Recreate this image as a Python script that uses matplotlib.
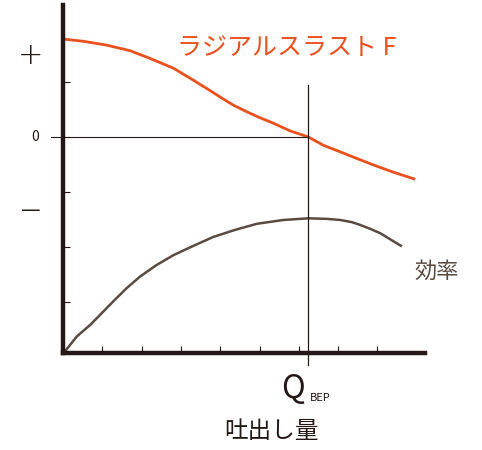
import matplotlib.pyplot as plt

plt.rcParams["font.family"] = ["Noto Sans CJK JP", "DejaVu Sans"]

# flow in tick units, value in tick units (0 = zero line)
thrust_x = [0.01, 0.52, 1.11, 1.70, 2.21, 2.81, 3.23, 3.66, 3.99, 4.33, 4.67,
            5.01, 5.35, 5.78, 6.24, 6.62, 7.05, 7.47, 7.90, 8.40, 8.96]
thrust_y = [1.78, 1.74, 1.67, 1.57, 1.43, 1.25, 1.07, 0.88, 0.73, 0.58, 0.46,
            0.35, 0.25, 0.11, 0.0, -0.15, -0.27, -0.39, -0.51, -0.64, -0.77]
eff_x = [0.05, 0.35, 0.69, 0.98, 1.28, 1.62, 1.96, 2.38, 2.81, 3.32, 3.82, 4.38,
         4.93, 5.61, 6.24, 6.71, 7.05, 7.35, 7.56, 7.81, 8.07, 8.32, 8.62]
eff_y = [-3.90, -3.63, -3.42, -3.21, -2.99, -2.75, -2.54, -2.33, -2.15, -1.98, -1.82, -1.69,
         -1.58, -1.51, -1.48, -1.49, -1.51, -1.55, -1.60, -1.67, -1.75, -1.86, -1.99]
q_bep = 6.24
x_ticks = [1, 2, 3, 4, 5, 6, 7, 8]
y_ticks = [1, 0, -1, -2, -3]

ORANGE = "#E8501E"
BROWN = "#594A42"
DARK = "#231815"

W, H = 482, 450
fig = plt.figure(figsize=(W / 100, H / 100), dpi=100)
ax = fig.add_axes([63 / W, 97 / H, 362 / W, 348 / H])
ax.set_xlim(0, 9.21)
ax.set_ylim(-3.93, 2.40)

ax.plot(thrust_x, thrust_y, color=ORANGE, lw=2.0, solid_capstyle="butt")
ax.plot(eff_x, eff_y, color=BROWN, lw=1.8, solid_capstyle="butt")

ax.plot([-0.3, q_bep], [0, 0], color=DARK, lw=0.8, clip_on=False)
ax.plot([q_bep, q_bep], [0.95, -4.15], color=DARK, lw=0.9, clip_on=False)

for s in ["top", "right"]:
    ax.spines[s].set_visible(False)
for s in ["left", "bottom"]:
    ax.spines[s].set_linewidth(3.2)
    ax.spines[s].set_color(DARK)

ax.set_xticks(x_ticks)
ax.set_yticks(y_ticks)
ax.tick_params(direction="in", length=5, width=0.8, color=DARK,
               labelleft=False, labelbottom=False)

ax.text(-0.83, 1.49, "+", fontsize=22, ha="center", va="center", color=DARK,
        family="DejaVu Sans", fontweight="light")
ax.text(-0.7, 0, "0", fontsize=10, ha="center", va="center", color=DARK)
ax.text(-0.83, -1.33, "—", fontsize=14, ha="center", va="center", color=DARK,
        family="DejaVu Sans")

ax.text(2.9, 1.62, "ラジアルスラスト F", fontsize=18, color=ORANGE, va="center")
ax.text(8.95, -2.45, "効率", fontsize=16, color=BROWN, va="center")
ax.text(5.55, -4.58, "Q", fontsize=23, color=DARK, va="center")
ax.text(6.28, -4.75, "BEP", fontsize=8, color=DARK, va="center")
ax.text(5.3, -5.36, "吐出し量", fontsize=17, color=DARK, ha="center", va="center")

fig.savefig("out.png", dpi=100)
